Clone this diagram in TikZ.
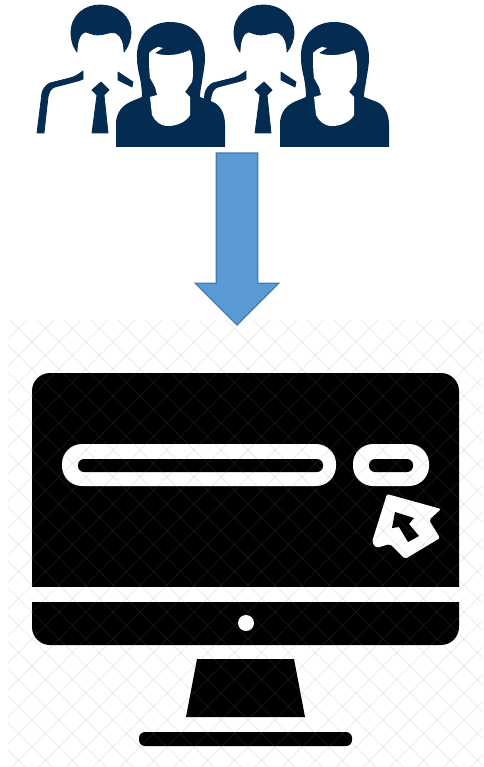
\documentclass[tikz,border=0pt]{standalone}
\usetikzlibrary{shapes.arrows}
\definecolor{navy}{HTML}{042B50}
\definecolor{arrowblue}{HTML}{5B9BD5}
\definecolor{arrowline}{HTML}{4A7BA8}
\tikzset{
    figure/.style={fill=navy, draw=navy, line width=0.8pt, line join=round},
    man/.pic={
        \path[figure] (77,52) .. controls (72,45) and (71,38) .. (71,33) .. controls (71,15) and (85,5) .. (100,5)
            .. controls (118,5) and (131,17) .. (131,32) .. controls (131,40) and (128,47) .. (124,52)
            .. controls (124,44) and (122,36) .. (116,33) .. controls (110,31) and (105,35) .. (98,35)
            .. controls (92,35) and (88,32) .. (85,32) .. controls (80,33) and (77,42) .. (77,52) -- cycle;
        \path[figure] (37,133) -- (44,133) -- (48,97) .. controls (49,92) and (51,88) .. (55,87) -- (74,82)
            .. controls (79,81) and (83,79) .. (83,79) -- (83,71) .. controls (78,75) and (74,77) .. (70,78)
            -- (50,83) .. controls (46,85) and (43,89) .. (42,93) -- cycle;
        \path[figure] (118,72) -- (133,82) -- (132,87) -- (118,80) -- cycle;
        \path[figure] (101,82) -- (92,90) -- (97,95) -- (92,133) -- (108,133) -- (104,95) -- (109,90) -- cycle;
    },
    woman/.pic={
        \fill[navy] (116,147) -- (116,122) .. controls (117,112) and (122,106) .. (130,102) -- (142,97)
            .. controls (142,90) and (141,84) .. (140,78) .. controls (138,70) and (137,64) .. (137,58)
            .. controls (136,36) and (150,22) .. (170,22) .. controls (192,22) and (205,36) .. (205,58)
            .. controls (205,66) and (203,74) .. (202,82) .. controls (201,88) and (200,92) .. (200,97)
            -- (213,102) .. controls (220,105) and (225,113) .. (225,125) -- (225,147) -- cycle;
        \fill[white] (149,53) .. controls (152,50) and (155,48) .. (158,47) -- (163,48) -- (155,53)
            .. controls (165,57) and (180,55) .. (190,50) .. controls (193,58) and (193,64) .. (193,68)
            .. controls (193,74) and (193,78) .. (192,82) -- (185,92) -- (190,97) -- (190,115)
            .. controls (187,121) and (178,126) .. (168,126) .. controls (160,126) and (155,121) .. (152,115)
            -- (150,97) -- (157,95) -- (155,87) -- (150,78) .. controls (149,70) and (149,60) .. (149,53) -- cycle;
    },
    bar/.style={fill=white, rounded corners=20pt},
    slot/.style={fill=black, rounded corners=6pt}
}
\begin{document}
\begin{tikzpicture}[x=1pt, y=-1pt]
    \useasboundingbox (0,0) rectangle (483,767);
    % people
    \pic at (0,0) {man};
    \pic at (163,0) {man};
    \pic at (0,0) {woman};
    \pic at (164,0) {woman};
    % arrow
    \node[single arrow, draw=arrowline, fill=arrowblue, line width=1.3pt, rotate=-90, inner xsep=0pt, inner ysep=20pt,
        outer sep=0pt, minimum height=172pt, single arrow head extend=21pt,
        single arrow tip angle=90, anchor=tip] (flow) at (237,325) {};
    % monitor
    \fill[black, rounded corners=18pt] (32,373) rectangle (459,645);
    \fill[white] (25,587) rectangle (465,602);
    \fill[white] (246,623) circle (8);
    \fill[black] (197,659) -- (294,659) -- (305,717) -- (186,717) -- cycle;
    \fill[black, rounded corners=6pt] (139,732) rectangle (352,746);
    % search field and button
    \fill[bar] (62,444) rectangle (336,486);
    \fill[slot] (78,459) rectangle (323,472);
    \fill[bar] (353,444) rectangle (429,486);
    \fill[slot] (369,459) rectangle (413,472);
    % cursor
    \fill[white, rounded corners=2pt] (387,494) -- (441,509) -- (429,520) -- (440,538) -- (405,559) -- (390,544) -- (376,548) -- (372,542) -- cycle;
    \fill[black] (395,512) -- (414,518) -- (409,524) -- (419,536) -- (408,542) -- (399,527) -- (392,528) -- cycle;
    % watermark lattice
    \begin{scope}
        \clip (8,320) rectangle (483,767);
        \foreach \x in {-449,-422,...,496}
            \draw[gray, opacity=0.15, line width=1pt] (\x,320) -- (\x+447,767);
        \foreach \x in {0,27,...,945}
            \draw[gray, opacity=0.15, line width=1pt] (\x,320) -- (\x-447,767);
    \end{scope}
\end{tikzpicture}
\end{document}
